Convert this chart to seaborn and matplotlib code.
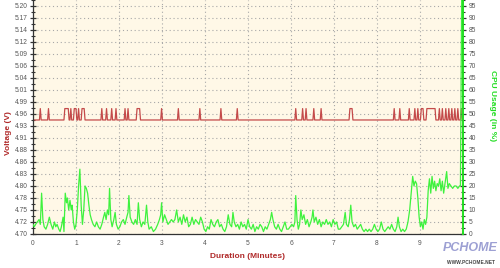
import numpy as np
import pandas as pd
import matplotlib
matplotlib.use("Agg")
import matplotlib.pyplot as plt
import seaborn as sns
from matplotlib.ticker import FixedLocator, MultipleLocator

# ---------------- data ----------------
volt_low = 4.95
volt_high = 4.975
pulse_start = [0.17, 0.36, 0.74, 0.88, 0.96, 1.06, 1.14, 1.60, 1.71, 1.83, 1.93, 2.14, 2.21,
               2.42, 2.99, 3.38, 3.88, 4.37, 4.75, 6.11, 6.27, 6.35, 6.53, 6.70, 7.37,
               8.40, 8.53, 8.75, 8.88, 8.95, 9.03, 9.16, 9.45, 9.52, 9.60, 9.67, 9.74,
               9.81, 9.88, 9.96]
pulse_end = [0.17, 0.36, 0.82, 0.88, 1.00, 1.06, 1.19, 1.60, 1.71, 1.83, 1.93, 2.14, 2.21,
             2.48, 2.99, 3.38, 3.88, 4.37, 4.75, 6.11, 6.27, 6.35, 6.53, 6.70, 7.42,
             8.40, 8.53, 8.75, 8.88, 8.95, 9.07, 9.35, 9.45, 9.52, 9.60, 9.67, 9.74,
             9.81, 9.88, 9.96]

cpu_minutes = [0.00, 0.03, 0.06, 0.10, 0.14, 0.17, 0.20, 0.23, 0.26, 0.30, 0.34, 0.38, 0.42,
               0.46, 0.50, 0.53, 0.56, 0.60, 0.63, 0.66, 0.70, 0.72, 0.75, 0.78, 0.80, 0.83,
               0.86, 0.89, 0.91, 0.94, 0.97, 1.00, 1.03, 1.06, 1.09, 1.12, 1.15, 1.18, 1.21,
               1.24, 1.27, 1.30, 1.33, 1.36, 1.40, 1.44, 1.48, 1.52, 1.56, 1.60, 1.64, 1.67,
               1.70, 1.73, 1.76, 1.78, 1.81, 1.84, 1.88, 1.91, 1.94, 1.98, 2.02, 2.06, 2.10,
               2.14, 2.18, 2.21, 2.23, 2.26, 2.30, 2.34, 2.38, 2.42, 2.45, 2.48, 2.52, 2.56,
               2.60, 2.64, 2.67, 2.70, 2.75, 2.80, 2.85, 2.90, 2.94, 2.97, 2.99, 3.02, 3.06,
               3.10, 3.14, 3.18, 3.22, 3.26, 3.30, 3.34, 3.38, 3.42, 3.46, 3.50, 3.54, 3.58,
               3.62, 3.66, 3.70, 3.74, 3.78, 3.82, 3.86, 3.90, 3.94, 3.98, 4.02, 4.06, 4.10,
               4.14, 4.18, 4.22, 4.26, 4.30, 4.34, 4.38, 4.42, 4.46, 4.50, 4.54, 4.58, 4.62,
               4.65, 4.68, 4.72, 4.76, 4.80, 4.84, 4.88, 4.92, 4.96, 5.00, 5.04, 5.08, 5.12,
               5.16, 5.20, 5.24, 5.28, 5.32, 5.36, 5.40, 5.44, 5.48, 5.52, 5.55, 5.58, 5.62,
               5.66, 5.70, 5.74, 5.78, 5.82, 5.86, 5.90, 5.94, 5.98, 6.02, 6.06, 6.09, 6.11,
               6.14, 6.17, 6.20, 6.23, 6.26, 6.30, 6.34, 6.38, 6.42, 6.46, 6.49, 6.51, 6.54,
               6.58, 6.62, 6.66, 6.70, 6.74, 6.78, 6.82, 6.86, 6.90, 6.94, 6.98, 7.02, 7.06,
               7.10, 7.14, 7.18, 7.22, 7.26, 7.29, 7.33, 7.36, 7.39, 7.42, 7.46, 7.50, 7.54,
               7.58, 7.62, 7.66, 7.70, 7.74, 7.78, 7.82, 7.86, 7.90, 7.94, 7.98, 8.02, 8.06,
               8.10, 8.14, 8.18, 8.22, 8.26, 8.30, 8.34, 8.38, 8.42, 8.46, 8.49, 8.52, 8.56,
               8.60, 8.64, 8.68, 8.72, 8.76, 8.80, 8.83, 8.86, 8.89, 8.92, 8.95, 8.98, 9.01,
               9.04, 9.07, 9.10, 9.13, 9.16, 9.19, 9.22, 9.25, 9.28, 9.31, 9.34, 9.37, 9.40,
               9.43, 9.46, 9.49, 9.52, 9.55, 9.58, 9.62, 9.65, 9.68, 9.72, 9.76, 9.80, 9.84,
               9.88, 9.92, 9.94, 9.97]
cpu_usage = [4, 3, 4, 5, 6, 4, 17, 6, 3, 2, 4, 7, 4,
             2, 5, 3, 4, 2, 1, 3, 7, 1, 17, 13, 15, 10,
             14, 10, 12, 5, 2, 4, 10, 20, 27, 12, 4, 10, 20,
             19, 17, 12, 8, 6, 4, 3, 5, 3, 2, 4, 7, 9,
             6, 10, 8, 19, 6, 3, 6, 9, 4, 2, 3, 5, 6,
             4, 7, 9, 16, 7, 5, 4, 6, 4, 13, 6, 3, 5,
             4, 12, 5, 2, 3, 1, 2, 4, 6, 8, 13, 5, 8,
             6, 4, 5, 6, 5, 6, 10, 5, 7, 4, 8, 5, 7,
             3, 4, 7, 4, 6, 5, 4, 7, 5, 2, 1, 3, 2,
             6, 4, 3, 5, 6, 3, 4, 2, 1, 3, 8, 4, 3,
             9, 5, 3, 4, 2, 5, 3, 4, 2, 6, 3, 2, 4,
             1, 3, 2, 4, 3, 1, 3, 2, 4, 6, 9, 6, 3,
             2, 4, 2, 1, 3, 5, 2, 2, 3, 4, 3, 5, 16,
             6, 2, 4, 10, 6, 8, 4, 6, 3, 5, 7, 10, 5,
             7, 4, 6, 3, 5, 4, 6, 4, 5, 3, 6, 4, 5,
             2, 2, 3, 4, 9, 4, 3, 6, 12, 5, 3, 4, 2,
             3, 4, 2, 1, 2, 1, 2, 1, 2, 4, 2, 1, 2,
             5, 2, 1, 2, 3, 2, 4, 2, 1, 3, 7, 3, 1,
             2, 1, 2, 5, 10, 18, 24, 20, 22, 21, 15, 7, 3,
             5, 2, 6, 4, 7, 18, 23, 17, 24, 19, 22, 18, 21,
             20, 23, 18, 22, 17, 21, 26, 19, 21, 20, 19, 20, 20,
             19, 20, 20, 100]

y_left_labels = ["4.70", "4.72", "4.75", "4.78", "4.80", "4.83", "4.86", "4.88", "4.91", "4.93",
                 "4.96", "4.99", "5.01", "5.04", "5.06", "5.09", "5.12", "5.14", "5.17", "5.20"]
y_right_ticks = [0, 5, 10, 15, 20, 25, 30, 35, 40, 45, 50, 55, 60, 65, 70, 75, 80, 85, 90, 95]
x_ticks = [0, 1, 2, 3, 4, 5, 6, 7, 8, 9]

# ---------------- build voltage trace from pulses ----------------
vt, vv = [0.0], [volt_low]
for s, e in zip(pulse_start, pulse_end):
    vt += [s - 0.02, s, e, e + 0.02]
    vv += [volt_low, volt_high, volt_high, volt_low]
vt.append(10.0)
vv.append(volt_low)
volt_df = pd.DataFrame({"minutes": vt, "voltage": vv})
cpu_df = pd.DataFrame({"minutes": cpu_minutes, "cpu": cpu_usage})

# ---------------- style ----------------
sns.set_style("white")
plt.rcParams["font.family"] = ["Liberation Sans", "DejaVu Sans"]

RED = "#c44a4a"
GREEN = "#3ef23e"
LABEL_RED = "#b02a2a"
TICK_C = "#333333"
TXT_C = "#555555"

fig = plt.figure(figsize=(5.0, 2.68), dpi=100)
fig.patch.set_facecolor("white")
ax = fig.add_axes([0.066, 0.127, 0.86, 0.873])
ax.set_facecolor("#fff8e7")

n = len(y_left_labels)
left_lo, left_hi = 4.70, 5.20
step = (left_hi - left_lo) / (n - 1)
left_pos = [left_lo + i * step for i in range(n)]

sns.lineplot(data=volt_df, x="minutes", y="voltage", ax=ax, color=RED, lw=0.9,
             estimator=None, sort=False)
ax.set_xlim(0, 10)
ax.set_ylim(left_lo, left_lo + (left_hi - left_lo) * 97.5 / 95)
ax.yaxis.set_major_locator(FixedLocator(left_pos))
ax.set_yticklabels(y_left_labels)
ax.yaxis.set_minor_locator(FixedLocator([p + step / 2 for p in left_pos]))
ax.set_xticks(x_ticks)
ax.set_xticklabels([str(t) for t in x_ticks])
ax.xaxis.set_minor_locator(MultipleLocator(0.2))

ax.grid(True, which="major", linestyle=(0, (1, 2.5)), color="#a8a8a8", lw=0.8)
ax.tick_params(axis="both", which="major", direction="inout", length=5, width=0.9,
               color=TICK_C, labelsize=4.8, labelcolor=TXT_C, pad=1.5)
ax.tick_params(axis="both", which="minor", direction="inout", length=3, width=0.8,
               color=TICK_C)
for side in ["top", "right"]:
    ax.spines[side].set_visible(False)
ax.spines["left"].set_color(TICK_C)
ax.spines["bottom"].set_color(TICK_C)
ax.spines["left"].set_linewidth(0.9)
ax.spines["bottom"].set_linewidth(0.9)

ax.set_xlabel("Duration (Minutes)", color=LABEL_RED, fontsize=6, fontweight="bold")
ax.xaxis.set_label_coords(0.5, -0.08)
ax.set_ylabel("Voltage (V)", color=LABEL_RED, fontsize=6, fontweight="bold")
ax.yaxis.set_label_coords(-0.058, 0.43)
ax.yaxis.label.set_va("center")

ax2 = ax.twinx()
sns.lineplot(data=cpu_df, x="minutes", y="cpu", ax=ax2, color=GREEN, lw=0.9,
             estimator=None, sort=False)
ax2.set_ylim(0, 97.5)
ax2.set_xlim(0, 10)
ax2.set_yticks(y_right_ticks)
ax2.set_yticklabels([str(t) for t in y_right_ticks])
ax2.yaxis.set_minor_locator(MultipleLocator(2.5))
ax2.tick_params(axis="y", which="major", direction="inout", length=5, width=0.9,
                color=TICK_C, labelsize=4.8, labelcolor=TXT_C, pad=1.5)
ax2.tick_params(axis="y", which="minor", direction="inout", length=3, width=0.8,
                color=TICK_C)
for side in ["top", "left", "bottom"]:
    ax2.spines[side].set_visible(False)
ax2.spines["right"].set_color("#22dd22")
ax2.spines["right"].set_linewidth(1.4)
ax2.set_ylabel("CPU Usage (in %)", color="#22dd22", fontsize=6, fontweight="bold",
               rotation=-90)
ax2.yaxis.set_label_coords(1.068, 0.55)
ax2.yaxis.label.set_va("center")
ax2.set_xlabel("")

# watermark
fig.text(0.995, 0.075, "PCHOME", color="#8c90cc", fontsize=9, fontweight="bold",
         style="italic", ha="right", va="center", alpha=0.85)
fig.text(0.99, 0.02, "WWW.PCHOME.NET", color="#444444", fontsize=3.5,
         fontweight="bold", ha="right", va="center")

fig.savefig("out.png", dpi=100)
